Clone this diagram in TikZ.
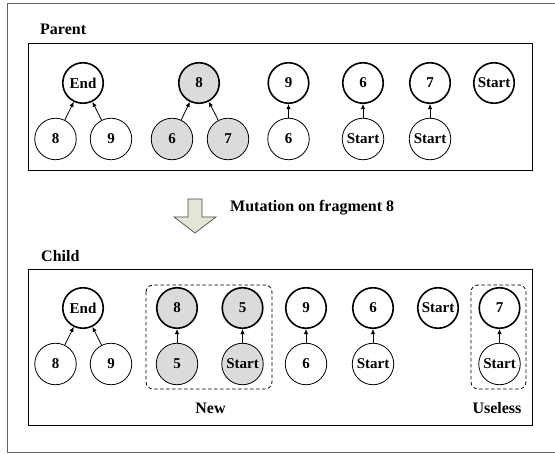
\documentclass[tikz,border=0pt]{standalone}
\usepackage{fontspec}
\setmainfont{Liberation Serif}
\usetikzlibrary{arrows.meta}
\definecolor{frag}{gray}{0.86}
\definecolor{arrfill}{RGB}{226,230,212}
\definecolor{outerline}{gray}{0.4}
\begin{document}
\begin{tikzpicture}[x=1pt,y=-1pt,
  every node/.style={font=\fontsize{15}{17}\selectfont\bfseries},
  lbl/.style={font=\fontsize{16}{18}\selectfont\bfseries, inner sep=0pt},
  topn/.style={circle, draw, line width=1.6pt, minimum size=40.5pt, inner sep=0pt},
  botn/.style={circle, draw, line width=0.8pt, minimum size=41.5pt, inner sep=0pt},
  shade/.style={fill=frag},
  link/.style={line width=0.8pt, -{Latex[length=5pt,width=4.5pt]}},
  groupbox/.style={draw, dash pattern=on 3.5pt off 2.5pt, line width=0.8pt, rounded corners=7pt},
  panel/.style={draw, line width=0.9pt}
]
\useasboundingbox (0,0) rectangle (555,454);
\draw[outerline, line width=0.9pt] (7,3) rectangle (558,452);

% ---------- Parent ----------
\node[lbl, anchor=west] (plabel) at (40,29) {Parent};
\draw[panel] (28,43.5) rectangle (532,170);

\node[topn] (pEnd) at (83,83) {End};
\node[botn] (pb8) at (55.5,139) {8};
\node[botn] (pb9) at (111,139) {9};
\draw[link] (pb8) -- (pEnd);
\draw[link] (pb9) -- (pEnd);

\node[topn, shade] (pt8) at (199,83) {8};
\node[botn, shade] (pb6) at (172,139) {6};
\node[botn, shade] (pb7) at (228,139) {7};
\draw[link] (pb6) -- (pt8);
\draw[link] (pb7) -- (pt8);

\node[topn] (pt9) at (288.5,83) {9};
\node[botn] (pb6b) at (288.5,139) {6};
\draw[link] (pb6b) -- (pt9);

\node[topn] (pt6) at (363,83) {6};
\node[botn] (pbS1) at (363,139) {Start};
\draw[link] (pbS1) -- (pt6);

\node[topn] (pt7) at (430,83) {7};
\node[botn] (pbS2) at (430,139) {Start};
\draw[link] (pbS2) -- (pt7);

\node[topn] (ptS) at (494,83) {Start};

% ---------- Mutation arrow ----------
\draw[line width=0.7pt, draw=gray!60!black, fill=arrfill]
  (188,199) -- (202,199) -- (202,217) -- (216,217) -- (195,233)
  -- (174,217) -- (188,217) -- cycle;
\node[lbl, anchor=west] (mlabel) at (230,208) {Mutation on fragment 8};

% ---------- Child ----------
\node[lbl, anchor=west] (clabel) at (41,256) {Child};
\draw[panel] (28,269.5) rectangle (532,425);

\node[topn] (cEnd) at (83,308) {End};
\node[botn] (cb8) at (55.5,364) {8};
\node[botn] (cb9) at (111,364) {9};
\draw[link] (cb8) -- (cEnd);
\draw[link] (cb9) -- (cEnd);

\draw[groupbox] (146,285) rectangle (272,389);
\node[topn, shade] (ct8) at (177,308) {8};
\node[botn, shade] (cb5) at (177,364) {5};
\draw[link] (cb5) -- (ct8);
\node[topn, shade] (ct5) at (242.5,308) {5};
\node[botn, shade] (cbS0) at (242.5,364) {Start};
\draw[link] (cbS0) -- (ct5);
\node[lbl] (newlbl) at (210.5,408) {New};

\node[topn] (ct9) at (306,308) {9};
\node[botn] (cb6) at (306,364) {6};
\draw[link] (cb6) -- (ct9);

\node[topn] (ct6) at (373,308) {6};
\node[botn] (cbS1) at (373,364) {Start};
\draw[link] (cbS1) -- (ct6);

\node[topn] (ctS) at (438,308) {Start};

\draw[groupbox] (471,285) rectangle (526,389);
\node[topn] (ct7) at (499.5,308) {7};
\node[botn] (cbS2) at (499.5,364) {Start};
\draw[link] (cbS2) -- (ct7);
\node[lbl] (uselbl) at (497,408) {Useless};
\end{tikzpicture}
\end{document}
